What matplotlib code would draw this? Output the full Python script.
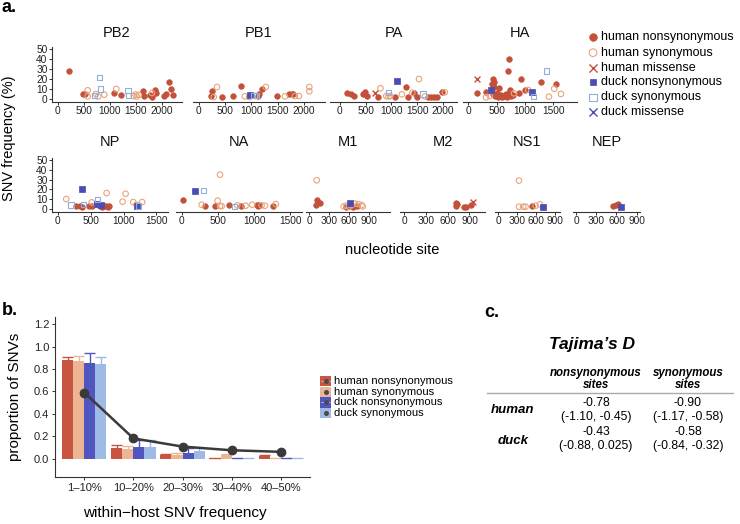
import matplotlib
matplotlib.use('Agg')
import matplotlib.pyplot as plt
from matplotlib.patches import Rectangle
import numpy as np

plt.rcParams['font.family'] = ['Liberation Sans', 'DejaVu Sans']

# ---------------- data: panel a (nucleotide site, SNV frequency %) ----------------
PB2 = {
    'hn': ([224, 487, 532, 1077, 1218, 1641, 1654, 1769, 1814, 1865, 1897, 2038, 2083, 2135, 2180, 2212],
           [27.7, 5.3, 5.3, 6, 3.7, 7.7, 2.7, 3.7, 2, 8.7, 6, 3.3, 5, 16.7, 10, 3.7]),
    'hs': ([577, 577, 737, 780, 897, 1128, 1462, 1500, 1520, 1558, 1814],
           [8.7, 2.7, 5, 2.5, 4.3, 10, 3, 4.5, 2.5, 4, 6]),
    'ds': ([712, 808, 820, 1352, 1365], [3.7, 21.7, 10, 8.7, 3.7]),
}
PB1 = {
    'hn': ([241, 254, 451, 654, 813, 1130, 1149, 1194, 1480, 1721, 1765, 1797],
           [3.3, 7.7, 2, 2.7, 13.3, 3.3, 5, 10, 2.7, 5, 5, 5]),
    'hs': ([286, 349, 876, 959, 1080, 1276, 1638, 1829, 1905, 2102, 2102],
           [2, 12, 2.7, 2, 3, 12, 2.7, 3, 3, 12, 7.7]),
    'dn': ([984], [4.3]),
    'ds': ([1048, 1100], [3.7, 3.7]),
}
PA = {
    'hn': ([130, 215, 267, 442, 494, 526, 735, 1060, 1287, 1320, 1430, 1500, 1700, 1760, 1820, 1880, 1983],
           [5.7, 5, 3.3, 4.7, 6.7, 3, 2.3, 2.3, 12.3, 2.3, 5.7, 1.7, 2, 2, 2, 2, 6.7]),
    'hs': ([787, 900, 940, 975, 1202, 1404, 1534, 1650, 2035],
           [10.7, 3, 2.5, 3, 4.7, 6.3, 20, 2.5, 6.7]),
    'hm': ([689], [5.7]),
    'dn': ([1118], [18.3]),
    'ds': ([943, 1612], [6.7, 5]),
}
HA = {
    'hn': ([147, 306, 412, 441, 459, 445, 440, 470, 500, 530, 547, 570, 600, 630, 660, 690, 717, 706,
            723, 735, 760, 790, 894, 929, 1000, 1282, 1546],
           [5.7, 6.7, 15, 20, 16.7, 12.5, 5, 3, 6, 2.5, 11.3, 4, 2.5, 3, 5, 2.5, 39.7, 28.3,
            5.7, 9, 3, 4, 5.7, 19.7, 9, 17.3, 15]),
    'hs': ([312, 380, 805, 1058, 1423, 1517, 1635], [1.7, 3, 5.7, 9, 2.3, 10.3, 5]),
    'hm': ([159], [20]),
    'dn': ([400, 1129], [9, 6.7]),
    'ds': ([1147, 1382], [2.3, 28]),
}
NP = {
    'hn': ([282, 342, 367, 483, 518, 644, 680, 710, 740, 760, 785],
           [3, 3, 2.5, 3.5, 3.5, 3, 2.5, 3, 3.5, 2.5, 3]),
    'hs': ([131, 518, 594, 744, 986, 1031, 1147, 1197, 1283],
           [10.2, 6.8, 4.4, 16.3, 7.5, 15.6, 7.1, 4.4, 7.1]),
    'dn': ([367, 600, 660, 1212], [20.7, 5, 4, 2.7]),
    'ds': ([201, 392, 609, 1230], [4, 4.4, 9.5, 3]),
}
NA = {
    'hn': ([14, 321, 459, 656, 812, 1033, 1047, 1070, 1253], [9.5, 3.4, 2.7, 4.4, 3.4, 4.5, 3, 4, 2.7]),
    'hs': ([275, 496, 528, 551, 528, 766, 881, 973, 1102, 1148, 1299],
           [4.4, 8.5, 3, 3, 35, 3.7, 3.4, 4.4, 3.7, 3.4, 5.1]),
    'dn': ([184], [18.7]),
    'ds': ([298, 725], [18.7, 2.7]),
}
M1 = {
    'hn': ([115, 105, 165, 560, 615, 665, 715], [9, 4.4, 6, 2.5, 3, 2.5, 3]),
    'hs': ([115, 520, 560, 600, 640, 690, 740, 790, 805], [29.3, 2.7, 3.5, 2.5, 4, 5.5, 5, 4, 2.7]),
    'dn': ([620], [6]),
}
M2 = {
    'hn': ([713, 720, 722, 823, 851, 920], [6, 3.5, 5, 2.4, 2.4, 4]),
    'hm': ([952], [7.5]),
}
NS1 = {
    'hs': ([326, 326, 394, 431, 589, 657], [29, 2.4, 2.4, 2.4, 3.4, 4.8]),
    'hn': ([536], [3]),
    'dn': ([700], [2.4]),
}
NEP = {
    'hn': ([551, 600, 625], [3, 4, 4.8]),
    'dn': ([664], [2.4]),
}

genes = ['PB2', 'PB1', 'PA', 'HA', 'NP', 'NA', 'M1', 'M2', 'NS1', 'NEP']
gene_data = [PB2, PB1, PA, HA, NP, NA, M1, M2, NS1, NEP]
gene_xlim = [(-109, 2391), (-108, 2400), (-190, 2271), (-94, 1919), (-85, 1675),
             (-79, 1660), (-45, 1215), (-60, 1115), (-52, 975), (-44, 948)]
gene_ticks = [[0, 500, 1000, 1500, 2000]] * 3 + [[0, 500, 1000, 1500]] * 3 + [[0, 300, 600, 900]] * 4
freq_ticks = [0, 10, 20, 30, 40, 50]

cat_keys = ['hn', 'hs', 'hm', 'dn', 'ds', 'dm']
cat_labels = ['human nonsynonymous', 'human synonymous', 'human missense',
              'duck nonsynonymous', 'duck synonymous', 'duck missense']

# ---------------- data: panel b ----------------
bins = ['1–10%', '10–20%', '20–30%', '30–40%', '40–50%']
human_nonsyn = [0.878, 0.098, 0.030, 0.003, 0.024]
human_nonsyn_err = [0.032, 0.024, 0.015, 0.0, 0.012]
human_syn = [0.875, 0.089, 0.033, 0.033, 0.003]
human_syn_err = [0.042, 0.027, 0.015, 0.009, 0.0]
duck_nonsyn = [0.857, 0.104, 0.050, 0.002, 0.002]
duck_nonsyn_err = [0.089, 0.060, 0.040, 0.0, 0.0]
duck_syn = [0.842, 0.104, 0.065, 0.002, 0.002]
duck_syn_err = [0.066, 0.060, 0.025, 0.0, 0.0]
neutral_expect = [0.589, 0.180, 0.107, 0.074, 0.060]
bar_labels = ['human nonsynonymous', 'human synonymous', 'duck nonsynonymous', 'duck synonymous']

# ---------------- data: panel c ----------------
tajima_cols = ['nonsynonymous\nsites', 'synonymous\nsites']
tajima_rows = ['human', 'duck']
tajima_est = [['-0.78', '-0.90'], ['-0.43', '-0.58']]
tajima_ci = [['(-1.10, -0.45)', '(-1.17, -0.58)'], ['(-0.88, 0.025)', '(-0.84, -0.32)']]

# ---------------- styles ----------------
RED = '#C4503A'
PEACH = '#E9A47C'
BLUE = '#4A4DB3'
LBLUE = '#8FB0DE'
AX = '#333333'
BAR_COLORS = ['#C8553F', '#EDB594', '#5055C0', '#9DBBE4']

styles = {
    'hn': dict(marker='o', s=16, facecolors=RED, edgecolors=RED, linewidths=0.5),
    'hs': dict(marker='o', s=16, facecolors='none', edgecolors=PEACH, linewidths=0.8),
    'hm': dict(marker='x', s=18, c=RED, linewidths=1.0),
    'dn': dict(marker='s', s=13, facecolors=BLUE, edgecolors=BLUE, linewidths=0.5),
    'ds': dict(marker='s', s=15, facecolors='none', edgecolors=LBLUE, linewidths=0.8),
    'dm': dict(marker='x', s=18, c=BLUE, linewidths=1.0),
}

W, H = 740, 524
fig = plt.figure(figsize=(7.4, 5.24), dpi=100)


def px_axes(x0, y0, x1, y1):
    return fig.add_axes([x0 / W, 1 - y1 / H, (x1 - x0) / W, (y1 - y0) / H])


# panel boxes (pixels)
boxes = [(52, 46.5, 182, 101.5), (193, 46.5, 325, 101.5), (330, 46.5, 457, 101.5), (463, 46.5, 577, 101.5),
         (52, 157.5, 168, 211.5), (176, 157.5, 302, 211.5), (306, 157.5, 390, 211.5),
         (400, 157.5, 485, 211.5), (495, 157.5, 560, 211.5), (573, 157.5, 640, 211.5)]

TICK_FS = 7.3
for i, (g, d) in enumerate(zip(genes, gene_data)):
    ax = px_axes(*boxes[i])
    for k in cat_keys:
        if k in d:
            ax.scatter(d[k][0], d[k][1], **styles[k], zorder=3, clip_on=False)
    ax.set_xlim(*gene_xlim[i])
    ax.set_ylim(-2.5, 52.5)
    ax.set_xticks(gene_ticks[i])
    ax.patch.set_visible(False)
    for sp in ['top', 'right']:
        ax.spines[sp].set_visible(False)
    ax.spines['bottom'].set_color(AX)
    ax.spines['bottom'].set_linewidth(0.8)
    ax.tick_params(axis='x', length=2.2, width=0.7, color=AX, labelsize=TICK_FS, pad=1.0, labelcolor='#222222')
    if i in (0, 4):
        ax.spines['left'].set_color(AX)
        ax.spines['left'].set_linewidth(0.8)
        ax.set_yticks(freq_ticks)
        ax.tick_params(axis='y', length=2.2, width=0.7, color=AX, labelsize=TICK_FS, pad=1.0, labelcolor='#222222')
    else:
        ax.spines['left'].set_visible(False)
        ax.set_yticks([])
    ax.set_title(g, fontsize=10.5, pad=7 if i < 4 else 8, color='#111111')

# ---------------- panel b ----------------
axb = px_axes(55, 317, 310, 477)
xpos = np.arange(1, len(bins) + 1)
bw = 0.225
series = [(human_nonsyn, human_nonsyn_err), (human_syn, human_syn_err),
          (duck_nonsyn, duck_nonsyn_err), (duck_syn, duck_syn_err)]
for j, (vals, errs) in enumerate(series):
    xs = xpos + (j - 1.5) * bw
    vals = np.array(vals)
    errs = np.array(errs)
    axb.vlines(xs, vals - errs, vals + errs, color=BAR_COLORS[j], lw=1.0, zorder=1)
    axb.hlines(vals + errs, xs - bw / 2, xs + bw / 2, color=BAR_COLORS[j], lw=1.0, zorder=1)
    axb.bar(xs, vals, width=bw, color=BAR_COLORS[j], zorder=2, linewidth=0)
axb.plot(xpos, neutral_expect, color='#3a3a3a', lw=1.8, marker='o', ms=6, zorder=4)
axb.set_xlim(0.4, 5.6)
axb.set_ylim(-0.165, 1.265)
axb.set_yticks([0, 0.2, 0.4, 0.6, 0.8, 1.0, 1.2])
axb.set_yticklabels(['0.0', '0.2', '0.4', '0.6', '0.8', '1.0', '1.2'])
axb.set_xticks(xpos)
axb.set_xticklabels(bins)
for sp in ['top', 'right']:
    axb.spines[sp].set_visible(False)
for sp in ['left', 'bottom']:
    axb.spines[sp].set_color(AX)
    axb.spines[sp].set_linewidth(0.8)
axb.tick_params(length=2.2, width=0.7, color=AX, labelsize=8, pad=2, labelcolor='#222222')
axb.patch.set_visible(False)

# ---------------- overlay for text / legends ----------------
ov = fig.add_axes([0, 0, 1, 1])
ov.set_xlim(0, W)
ov.set_ylim(H, 0)
ov.axis('off')

ov.text(2, 12, 'a.', fontsize=13, fontweight='bold', va='baseline', ha='left')
ov.text(2, 315, 'b.', fontsize=13, fontweight='bold', va='baseline', ha='left')
ov.text(484, 317, 'c.', fontsize=13, fontweight='bold', va='baseline', ha='left')

ov.text(9, 138, 'SNV frequency (%)', rotation=90, fontsize=10.5, ha='center', va='center')
ov.text(392, 250, 'nucleotide site', fontsize=10.5, ha='center', va='center')
ov.text(15, 397, 'proportion of SNVs', rotation=90, fontsize=11, ha='center', va='center')
ov.text(175, 513, 'within\u2212host SNV frequency', fontsize=11, ha='center', va='center')

# legend a
leg_y = [36.7, 52.7, 67.7, 82.3, 97.3, 111.7]
for k, lab, y in zip(cat_keys, cat_labels, leg_y):
    st = dict(styles[k])
    st['s'] = st['s'] * 1.9
    ov.scatter([593], [y], **st, clip_on=False)
    ov.text(601, y, lab, fontsize=9, va='center', ha='left')

# legend b
legb_y = [381, 391.7, 402.4, 413.1]
for j, (lab, y) in enumerate(zip(bar_labels, legb_y)):
    ov.add_patch(Rectangle((320, y - 5.2), 11, 10.4, facecolor=BAR_COLORS[j], edgecolor='none'))
    ov.plot([321, 330], [y, y], color='#bbbbbb', lw=0.6)
    ov.plot([325.5], [y], marker='o', ms=3.6, color='#4a4a4a', mew=0)
    ov.text(334, y, lab, fontsize=8, va='center', ha='left')

# panel c table
ov.text(592, 345, 'Tajima\u2019s D', fontsize=12.5, fontweight='bold', fontstyle='italic', ha='center', va='center')
col_x = [596, 688]
for cx, lab in zip(col_x, tajima_cols):
    l1, l2 = lab.split('\n')
    ov.text(cx, 373, l1, fontsize=8.3, fontweight='bold', fontstyle='italic', ha='center', va='center')
    ov.text(cx, 385, l2, fontsize=8.3, fontweight='bold', fontstyle='italic', ha='center', va='center')
ov.plot([487, 733], [393, 393], color='#aaaaaa', lw=1.0)
row_y = [(403, 417, 410), (432, 446, 441)]
for r, (ye, yc, yl) in enumerate(row_y):
    ov.text(513, yl, tajima_rows[r], fontsize=9.5, fontweight='bold', fontstyle='italic', ha='center', va='center')
    for c, cx in enumerate(col_x):
        ov.text(cx, ye, tajima_est[r][c], fontsize=8.8, ha='center', va='center')
        ov.text(cx, yc, tajima_ci[r][c], fontsize=8.8, ha='center', va='center')

fig.savefig('out.png', dpi=100)
